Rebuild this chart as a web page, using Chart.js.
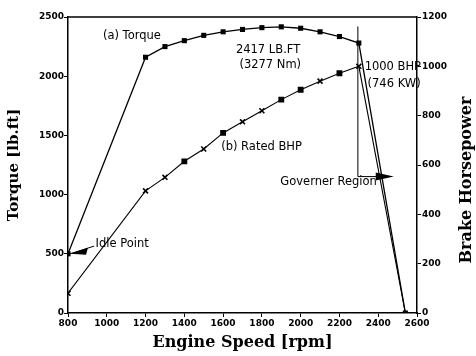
<!DOCTYPE html>
<html>
<head>
<meta charset="utf-8">
<script src="https://cdn.jsdelivr.net/npm/chart.js@4.4.1/dist/chart.umd.min.js"></script>
<style>
  html, body { margin: 0; padding: 0; background: #fff; }
</style>
</head>
<body>
<canvas id="engineChart" width="476" height="356"></canvas>
<script>
// engine speed (rpm) for each marker
const torqueRpm = [800, 1200, 1300, 1400, 1500, 1600, 1700, 1800, 1900, 2000, 2100, 2200, 2300, 2540];
const torqueVals = [500, 2160, 2250, 2300, 2345, 2375, 2395, 2410, 2417, 2405, 2375, 2335, 2280, 0];

const bhpRpm = [800, 1200, 1300, 1400, 1500, 1600, 1700, 1800, 1900, 2000, 2100, 2200, 2300, 2540];
const bhpVals = [80, 495, 550, 615, 665, 730, 775, 820, 865, 905, 940, 972, 1000, 0];
const bhpMarks = ['crossRot', 'crossRot', 'crossRot', 'rect', 'crossRot', 'rect', 'crossRot', 'crossRot', 'rect', 'rect', 'crossRot', 'rect', 'crossRot', 'crossRot'];

const rpmTicks = [800, 1000, 1200, 1400, 1600, 1800, 2000, 2200, 2400, 2600];
const torqueTicks = [0, 500, 1000, 1500, 2000, 2500];
const hpTicks = [0, 200, 400, 600, 800, 1000, 1200];

// text notes: [text, rpm, torque]
const notes = [
  ['(a) Torque', 980, 2340],
  ['2417 LB.FT', 1666, 2225],
  ['(3277 Nm)', 1684, 2095],
  ['1000 BHP', 2330, 2075],
  ['(746 KW)', 2345, 1935],
  ['(b) Rated BHP', 1590, 1405],
  ['Governer Region', 1895, 1110],
  ['Idle Point', 942, 583]
];

const pts = (xs, ys) => xs.map((x, i) => ({ x, y: ys[i] }));

const extras = {
  id: 'extras',
  afterDatasetsDraw(chart) {
    const { ctx, chartArea, scales } = chart;
    const x = scales.x, y = scales.y, y1 = scales.y1;
    ctx.save();
    ctx.strokeStyle = '#000';
    ctx.fillStyle = '#000';

    // top frame line
    ctx.lineWidth = 1.5;
    ctx.beginPath();
    ctx.moveTo(chartArea.left, chartArea.top);
    ctx.lineTo(chartArea.right, chartArea.top);
    ctx.stroke();

    // notes
    ctx.font = '11.5px "DejaVu Sans"';
    ctx.textBaseline = 'middle';
    ctx.textAlign = 'left';
    notes.forEach(n => ctx.fillText(n[0], x.getPixelForValue(n[1]), y.getPixelForValue(n[2])));

    // idle point arrow
    const ix = x.getPixelForValue(800), iy = y.getPixelForValue(500);
    const tx = x.getPixelForValue(935), ty = y.getPixelForValue(565);
    ctx.lineWidth = 1;
    ctx.beginPath();
    ctx.moveTo(tx, ty);
    ctx.lineTo(ix + 2, iy);
    ctx.stroke();
    ctx.beginPath();
    ctx.moveTo(ix + 2, iy);
    ctx.lineTo(ix + 20, iy - 6);
    ctx.lineTo(ix + 18, iy + 1);
    ctx.closePath();
    ctx.fill();

    // governer region bracket
    const gx = x.getPixelForValue(2295);
    const gTop = y.getPixelForValue(2420);
    const gy = y1.getPixelForValue(553);
    const gEnd = x.getPixelForValue(2480);
    ctx.beginPath();
    ctx.moveTo(gx, gTop);
    ctx.lineTo(gx, gy);
    ctx.lineTo(gEnd - 10, gy);
    ctx.stroke();
    ctx.beginPath();
    ctx.moveTo(gEnd, gy);
    ctx.lineTo(gEnd - 18, gy - 4);
    ctx.lineTo(gEnd - 18, gy + 4);
    ctx.closePath();
    ctx.fill();

    // right axis title, reading upwards
    ctx.font = 'bold 16px "DejaVu Serif"';
    ctx.textAlign = 'center';
    ctx.translate(467, 180);
    ctx.rotate(-Math.PI / 2);
    ctx.fillText('Brake Horsepower', 0, 0);
    ctx.restore();
  }
};

const tickFont = { family: 'DejaVu Sans', size: 9, weight: 'bold' };
const plain = v => String(v);

new Chart(document.getElementById('engineChart'), {
  type: 'line',
  data: {
    datasets: [{
      label: 'Torque',
      data: pts(torqueRpm, torqueVals),
      yAxisID: 'y',
      borderColor: '#000',
      backgroundColor: '#000',
      borderWidth: 1.3,
      pointStyle: 'rect',
      pointRadius: 3.6,
      pointBorderWidth: 0,
      tension: 0
    }, {
      label: 'Rated BHP',
      data: pts(bhpRpm, bhpVals),
      yAxisID: 'y1',
      borderColor: '#000',
      backgroundColor: '#000',
      borderWidth: 1.1,
      pointStyle: bhpMarks,
      pointRadius: bhpMarks.map((m, i) => i === bhpMarks.length - 1 ? 0 : (m === 'rect' ? 3 : 3.5)),
      pointBorderWidth: 1.6,
      tension: 0
    }]
  },
  options: {
    responsive: false,
    animation: false,
    layout: { padding: { top: 17, left: 0, right: 0, bottom: 0 } },
    plugins: {
      legend: { display: false },
      tooltip: { enabled: false }
    },
    scales: {
      x: {
        type: 'linear',
        min: 800,
        max: 2600,
        afterBuildTicks: s => { s.ticks = rpmTicks.map(v => ({ value: v })); },
        afterFit: s => { s.height = 43; },
        ticks: { color: '#000', font: tickFont, padding: 1, maxRotation: 0, autoSkip: false, callback: plain },
        grid: { drawOnChartArea: false, color: '#000', tickLength: 4 },
        border: { color: '#000', width: 1.5 },
        title: {
          display: true,
          text: 'Engine Speed [rpm]',
          color: '#000',
          font: { family: 'DejaVu Serif', size: 16, weight: 'bold' },
          padding: { top: 0, bottom: 4 }
        }
      },
      y: {
        position: 'left',
        min: 0,
        max: 2500,
        afterBuildTicks: s => { s.ticks = torqueTicks.map(v => ({ value: v })); },
        afterFit: s => { s.width = 68; },
        ticks: { color: '#000', font: tickFont, padding: 0, callback: plain },
        grid: { drawOnChartArea: false, color: '#000', tickLength: 4 },
        border: { color: '#000', width: 1.5 },
        title: {
          display: true,
          text: 'Torque [lb.ft]',
          color: '#000',
          font: { family: 'DejaVu Serif', size: 15, weight: 'bold' },
          padding: { top: 5, bottom: 0 }
        }
      },
      y1: {
        position: 'right',
        min: 0,
        max: 1200,
        afterBuildTicks: s => { s.ticks = hpTicks.map(v => ({ value: v })); },
        afterFit: s => { s.width = 59; },
        ticks: { color: '#000', font: tickFont, padding: 1, callback: plain },
        grid: { drawOnChartArea: false, color: '#000', tickLength: 4 },
        border: { color: '#000', width: 1.5 }
      }
    }
  },
  plugins: [extras]
});
</script>
</body>
</html>
